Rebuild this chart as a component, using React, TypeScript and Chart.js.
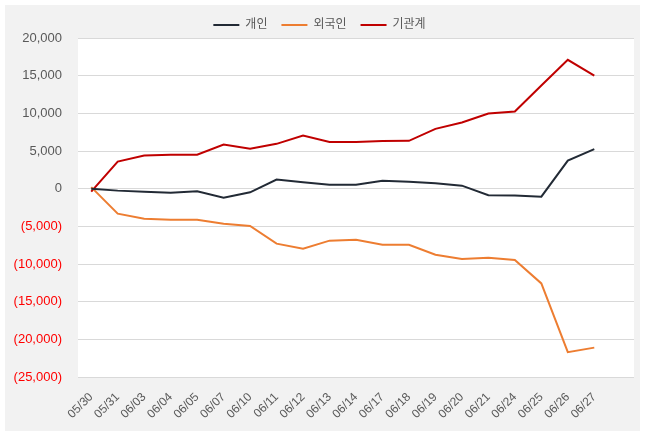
import React, { useEffect, useRef } from "react";
import { Chart, registerables } from "chart.js";

Chart.register(...registerables);

const labels = ["05/30", "05/31", "06/03", "06/04", "06/05", "06/07", "06/10", "06/11", "06/12", "06/13", "06/14", "06/17", "06/18", "06/19", "06/20", "06/21", "06/24", "06/25", "06/26", "06/27", ""];
const individual = [0, -260, -400, -530, -350, -1200, -480, 1200, 850, 530, 530, 1060, 930, 720, 400, -880, -900, -1060, 3720, 5240, null];
const foreign = [200, -3320, -3990, -4120, -4120, -4650, -4960, -7300, -7980, -6900, -6780, -7450, -7450, -8780, -9350, -9170, -9480, -12580, -21700, -21100, null];
const institution = [-400, 3600, 4400, 4500, 4500, 5850, 5300, 5950, 7050, 6200, 6200, 6340, 6350, 7940, 8780, 9970, 10240, 13700, 17100, 15000, null];
const seriesNames = ["개인", "외국인", "기관계"];
const yMin = -25000;
const yMax = 20000;
const yStep = 5000;

const W = 635;
const H = 426;

export default function App() {
  const ref = useRef<HTMLCanvasElement | null>(null);
  useEffect(() => {
    if (!ref.current) return;
    Chart.defaults.font.family = "'Liberation Sans', 'Noto Sans CJK KR', sans-serif";
    const bgPlugin = {
      id: "plotBg",
      beforeDraw(chart: any) {
        const { ctx, chartArea } = chart;
        ctx.save();
        ctx.fillStyle = "#ffffff";
        ctx.fillRect(chartArea.left, chartArea.top, chartArea.right - chartArea.left, chartArea.bottom - chartArea.top);
        ctx.restore();
      },
    };
    const legendFix = {
      id: "legendFix",
      afterInit(chart: any) {
        const lg = chart.legend;
        if (lg) {
          const orig = lg.fit.bind(lg);
          lg.fit = function () {
            orig();
            this.height = 33;
          };
        }
      },
    };
    const chart = new Chart(ref.current, {
      type: "line",
      data: {
        labels,
        datasets: [
          { label: seriesNames[0], data: individual, borderColor: "#222a35", backgroundColor: "#222a35", borderWidth: 2, pointRadius: 0, tension: 0 },
          { label: seriesNames[1], data: foreign, borderColor: "#ed7d31", backgroundColor: "#ed7d31", borderWidth: 2, pointRadius: 0, tension: 0 },
          { label: seriesNames[2], data: institution, borderColor: "#c00000", backgroundColor: "#c00000", borderWidth: 2, pointRadius: 0, tension: 0 },
        ],
      },
      options: {
        responsive: false,
        animation: false,
        devicePixelRatio: 1,
        layout: { padding: { left: 0, right: 6, top: 0, bottom: 0 } },
        plugins: {
          legend: {
            position: "top",
            labels: {
              usePointStyle: true,
              pointStyle: "line",
              pointStyleWidth: 26,
              padding: 14,
              color: "#595959",
              font: { size: 12 },
            },
          },
          tooltip: { enabled: false },
        },
        scales: {
          x: {
            offset: true,
            grid: { display: false },
            border: { display: false },
            afterFit(scale: any) {
              scale.height = 54;
            },
            ticks: {
              autoSkip: false,
              maxRotation: 45,
              minRotation: 45,
              padding: 5,
              color: "#595959",
              font: { size: 12 },
            },
          },
          y: {
            min: yMin,
            max: yMax,
            border: { display: false },
            grid: { color: "#d9d9d9", drawTicks: false, lineWidth: 1 },
            afterFit(scale: any) {
              scale.width = 73;
            },
            ticks: {
              stepSize: yStep,
              padding: 16,
              font: { size: 13 },
              color: (ctx: any) => (ctx.tick && ctx.tick.value < 0 ? "#ff0000" : "#595959"),
              callback: (v: any) => {
                const n = Number(v);
                const s = Math.abs(n).toLocaleString("en-US");
                return n < 0 ? "(" + s + ")" : s;
              },
            },
          },
        },
      },
      plugins: [bgPlugin, legendFix],
    });
    return () => chart.destroy();
  }, []);
  return (
    <div style={{ position: "absolute", left: 5, top: 5, width: W, height: H, background: "#f2f2f2" }}>
      <canvas ref={ref} width={W} height={H} style={{ display: "block", width: W, height: H }} />
    </div>
  );
}
